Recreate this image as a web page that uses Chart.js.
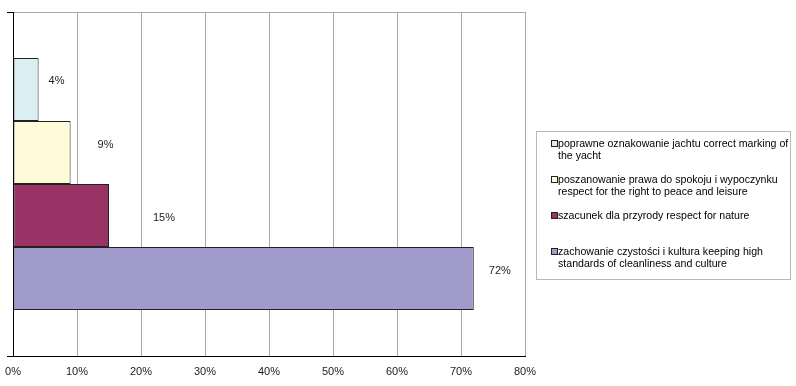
<!DOCTYPE html>
<html>
<head>
<meta charset="utf-8">
<script src="https://cdn.jsdelivr.net/npm/chart.js@4/dist/chart.umd.min.js"></script>
<style>
  html, body { margin: 0; padding: 0; background: #fff; }
  #wrap { position: relative; width: 796px; height: 386px; }
  #legend {
    position: absolute; left: 536px; top: 131px; width: 253px; height: 142px;
    border: 1px solid #b8b8b8; box-sizing: content-box;
    font: 10.6px "Liberation Sans", Arial, sans-serif; color: #000;
    padding-top: 5px;
  }
  .item { position: relative; height: 36px; line-height: 12px; }
  .item .box {
    position: absolute; left: 14px; top: 3px; width: 5px; height: 5px;
    border: 1px solid #222;
  }
  .item .txt { position: absolute; left: 21px; top: 0; width: 234px; }
</style>
</head>
<body>
<div id="wrap">
  <canvas id="chart" width="796" height="386"></canvas>
  <div id="legend"></div>
</div>
<script>
// Dane
const seriesLabels = [
  'poprawne oznakowanie jachtu correct marking of the yacht',
  'poszanowanie prawa do spokoju i wypoczynku respect for the right to peace and leisure',
  'szacunek dla przyrody respect for nature',
  'zachowanie czystości i kultura keeping high standards of cleanliness and culture'
];
const seriesValues = [4, 9, 15, 72];
const seriesColors = ['#DAEEF3', '#FFFAD7', '#993366', '#A09BCB'];
const xTicks = [0, 10, 20, 30, 40, 50, 60, 70, 80];

// przesunięcia etykiet [dx, dy] jak w oryginale
const labelShift = [[10, -8], [27, -8], [44, 2], [15, -8]];

const valueLabels = {
  id: 'valueLabels',
  afterDatasetsDraw(chart) {
    const ctx = chart.ctx;
    ctx.save();
    ctx.font = '11px "Liberation Sans", Arial, sans-serif';
    ctx.fillStyle = '#222';
    ctx.textBaseline = 'middle';
    chart.data.datasets.forEach((ds, i) => {
      const bar = chart.getDatasetMeta(i).data[0];
      const sh = labelShift[i];
      ctx.fillText(ds.data[0] + '%', bar.x + sh[0], bar.y + sh[1]);
    });
    ctx.restore();
  }
};

const datasets = seriesLabels.map((label, i) => ({
  label: label,
  data: [seriesValues[i]],
  backgroundColor: seriesColors[i],
  borderColor: '#222',
  borderWidth: 1,
  borderSkipped: false,
  categoryPercentage: 0.733,
  barPercentage: 1
}));

const chart = new Chart(document.getElementById('chart'), {
  type: 'bar',
  data: { labels: [''], datasets: datasets },
  options: {
    indexAxis: 'y',
    responsive: false,
    animation: false,
    layout: { padding: { top: 12, right: 271, left: 0, bottom: 0 } },
    plugins: { legend: { display: false }, tooltip: { enabled: false } },
    scales: {
      x: {
        min: 0, max: 80,
        afterBuildTicks: s => { s.ticks = xTicks.map(v => ({ value: v })); },
        afterFit: s => { s.height = 30; },
        // niewidoczne kreski zamiast paddingu, żeby oś Y została na x=13
        grid: { color: '#a8a8a8', drawTicks: true, tickLength: 9, tickColor: 'rgba(0,0,0,0)' },
        border: { color: '#000', width: 1 },
        ticks: {
          padding: 0,
          color: '#222',
          font: { family: '"Liberation Sans", Arial, sans-serif', size: 11 },
          callback: v => v + '%'
        }
      },
      y: {
        afterFit: s => { s.width = 13; },
        grid: { color: '#a8a8a8', tickColor: '#000', tickLength: 6, offset: true },
        border: { color: '#000', width: 1 },
        ticks: { display: false }
      }
    }
  },
  plugins: [valueLabels]
});

// Legenda HTML
const legendEl = document.getElementById('legend');
chart.data.datasets.forEach(ds => {
  const item = document.createElement('div');
  item.className = 'item';
  item.innerHTML = `<span class="box" style="background:${ds.backgroundColor}"></span><span class="txt">${ds.label}</span>`;
  legendEl.appendChild(item);
});
</script>
</body>
</html>
